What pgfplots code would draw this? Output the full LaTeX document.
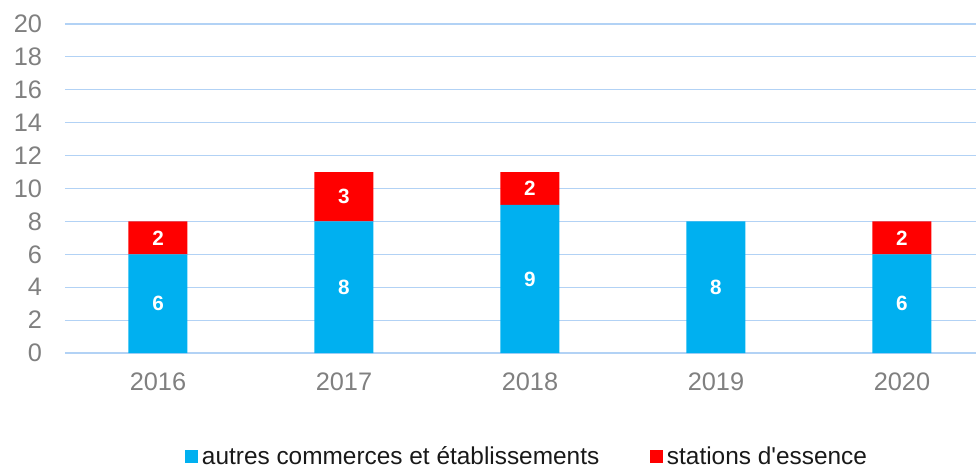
\documentclass[border=0pt]{standalone}
\usepackage{fontspec}
\setmainfont{Liberation Sans}
\usepackage{pgfplots}
\pgfplotsset{compat=1.18}
\definecolor{cblue}{RGB}{0,176,240}
\definecolor{cred}{RGB}{255,0,0}
\definecolor{cgrid}{RGB}{178,210,245}
\definecolor{ctick}{RGB}{128,128,128}
\definecolor{clegend}{RGB}{25,25,25}
\begin{document}
\begin{tikzpicture}
\begin{axis}[
  name=ax,
  scale only axis,
  width=683.25pt, height=246.75pt,
  xmin=-0.5, xmax=4.398,
  ymin=0, ymax=20,
  ybar stacked,
  bar width=44.25pt,
  xtick={0,1,2,3,4},
  xticklabels={2016,2017,2018,2019,2020},
  ytick={0,2,...,20},
  ymajorgrids,
  major grid style={draw=cgrid, line width=0.85pt},
  axis line style={draw=none},
  major tick length=0pt,
  /pgf/number format/assume math mode=true,
  ticklabel style={font=\fontsize{19}{22}\selectfont, text=ctick, inner sep=0pt},
  yticklabel style={anchor=east, xshift=-17pt},
  xticklabel style={anchor=north, yshift=-14.5pt},
  legend columns=2,
  legend style={draw=none, fill=none, inner sep=0pt, outer sep=0pt,
    at={(0.1317,-0.316)}, anchor=west,
    font=\fontsize{18.3}{22}\selectfont, text=clegend,
    nodes={inner sep=0pt},
    /tikz/every odd column/.style={column sep=3pt},
    /tikz/every even column/.style={column sep=38pt}},
  legend image code/.code={\fill[#1] (0pt,-4.875pt) rectangle (9.75pt,4.875pt);},
]
\addplot[fill=cblue, draw=none] coordinates {(0,6) (1,8) (2,9) (3,8) (4,6)};
\addplot[fill=cred, draw=none] coordinates {(0,2) (1,3) (2,2) (3,0) (4,2)};
\legend{autres commerces et établissements, stations d\textquotesingle essence}
\end{axis}
\begin{axis}[
  scale only axis,
  width=683.25pt, height=246.75pt,
  xmin=-0.5, xmax=4.398,
  ymin=0, ymax=20,
  hide axis,
]
\addplot[draw=none, mark=none, nodes near coords, point meta=explicit symbolic,
  nodes near coords align=center,
  every node near coord/.append style={text=white, font=\bfseries\fontsize{15.5}{18}\selectfont}]
  coordinates {(0,3)[6] (1,4)[8] (2,4.5)[9] (3,4)[8] (4,3)[6]
               (0,7)[2] (1,9.5)[3] (2,10)[2] (4,7)[2]};
\end{axis}
\pgfresetboundingbox
\useasboundingbox ([shift={(-48.75pt,-86.25pt)}]ax.south west) rectangle ([shift={(0pt,18pt)}]ax.north east);
\end{tikzpicture}
\end{document}
